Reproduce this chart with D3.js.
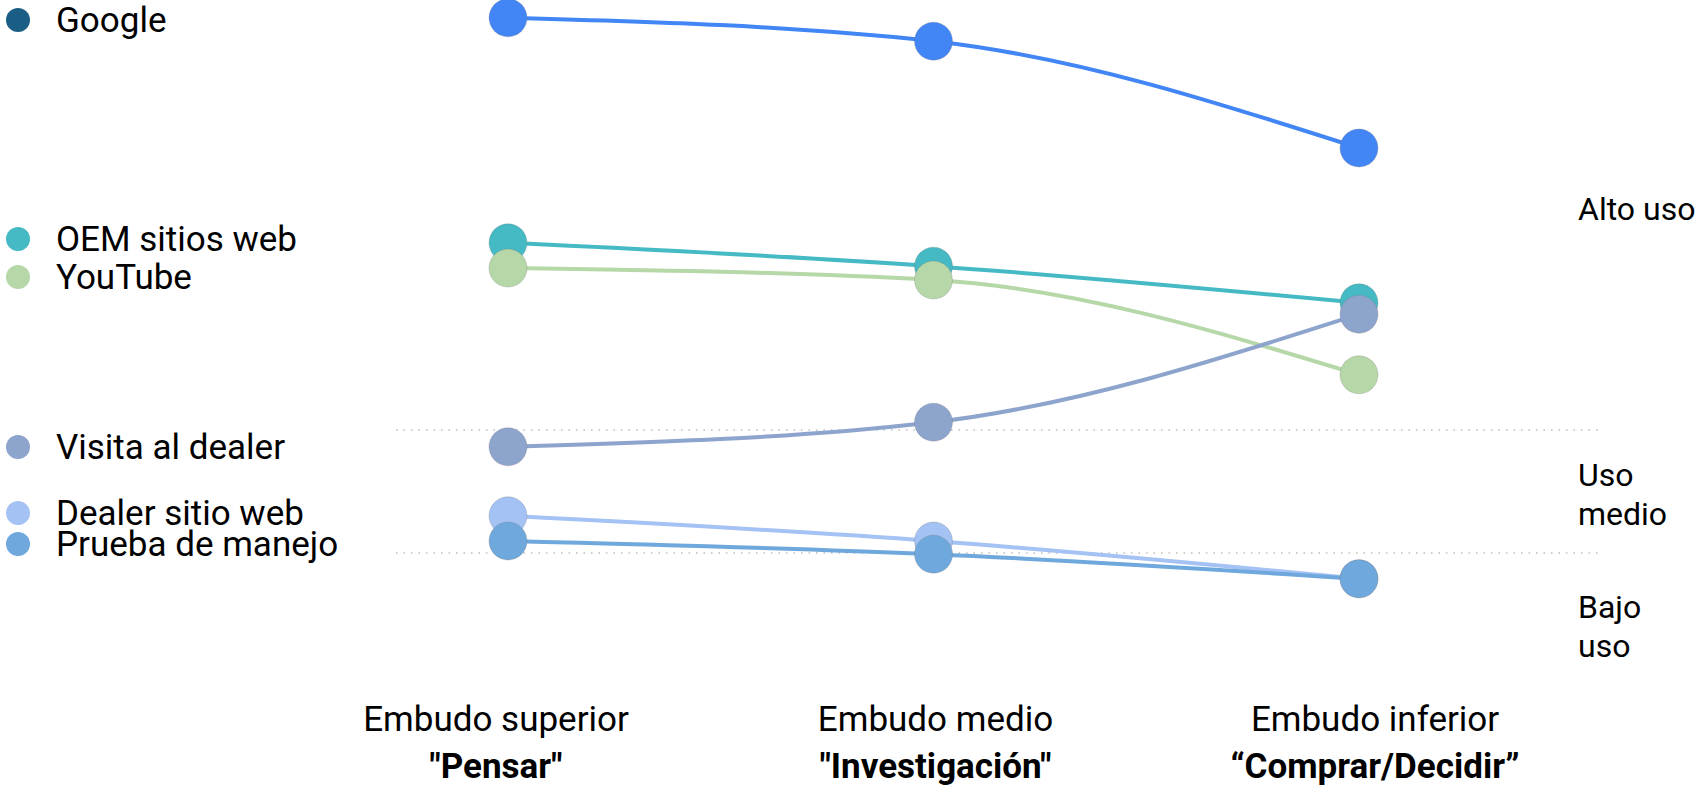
<!DOCTYPE html>
<html>
<head>
<meta charset="utf-8">
<script src="https://cdn.jsdelivr.net/npm/d3@7"></script>
<style>
  html, body { margin: 0; padding: 0; background: #fff; }
  svg { display: block; font-family: Roboto, "Noto Sans", sans-serif; }
</style>
</head>
<body>
<svg id="chart" width="1696" height="788"></svg>
<script>
// Funnel stages (x axis)
const stages = ["Embudo superior", "Embudo medio", "Embudo inferior"];
const stageNames = ["\"Pensar\"", "\"Investigación\"", "\u201CComprar/Decidir\u201D"];

// Channels and their relative usage at each stage (0–100 index)
const channels = ["Google", "OEM sitios web", "YouTube", "Visita al dealer", "Dealer sitio web", "Prueba de manejo"];
const google      = [98.7, 94.8, 77.0];
const oemSites    = [61.2, 57.3, 51.2];
const youtube     = [57.0, 55.0, 39.2];
const dealerVisit = [27.2, 31.3, 49.3];
const dealerSite  = [15.7, 11.5, 5.2];
const testDrive   = [11.5, 9.3, 5.2];
const seriesValues = [google, oemSites, youtube, dealerVisit, dealerSite, testDrive];

// Usage band boundaries and labels
const bandThresholds = [30, 9.5];
const bandLabels = [["Alto uso"], ["Uso", "medio"], ["Bajo", "uso"]];

const lineColors   = ["#4285F4", "#45BAC5", "#B6D7A8", "#8DA4CD", "#A4C2F4", "#6FA8DC"];
const legendColors = ["#1B5E85", "#45BAC5", "#B6D7A8", "#8DA4CD", "#A4C2F4", "#6FA8DC"];

const svg = d3.select("#chart");

const x = d3.scalePoint().domain(stages).range([508, 1359]);
const xLabel = d3.scalePoint().domain(stages).range([496, 1375]);
const y = d3.scaleLinear().domain([0, 100]).range([610, 10]);

// Dotted band separators
svg.append("g").selectAll("line")
  .data(bandThresholds)
  .join("line")
  .attr("x1", 396).attr("x2", 1600)
  .attr("y1", d => y(d)).attr("y2", d => y(d))
  .attr("stroke", "#bdbdbd")
  .attr("stroke-width", 1.5)
  .attr("stroke-dasharray", "1.5,6");

// Band labels on the right
const bandLabelY = [220, 486, 618];
const bandG = svg.append("g");
bandLabels.forEach((lines, i) => {
  const t = bandG.append("text")
    .attr("x", 1578).attr("y", bandLabelY[i])
    .attr("font-size", 32).attr("fill", "#000");
  lines.forEach((s, j) => t.append("tspan").attr("x", 1578).attr("dy", j === 0 ? 0 : 39).text(s));
});

// Lines and dots, one series at a time so later series sit on top
const line = d3.line()
  .x((d, i) => x(stages[i]))
  .y(d => y(d))
  .curve(d3.curveMonotoneX);

const seriesG = svg.append("g");
seriesValues.forEach((vals, si) => {
  const g = seriesG.append("g");
  g.append("path")
    .attr("d", line(vals))
    .attr("fill", "none")
    .attr("stroke", lineColors[si])
    .attr("stroke-width", 4);
  g.selectAll("circle")
    .data(vals)
    .join("circle")
    .attr("cx", (d, i) => x(stages[i]))
    .attr("cy", d => y(d))
    .attr("r", 19)
    .attr("fill", lineColors[si])
    .attr("stroke", "rgba(110,110,110,0.25)")
    .attr("stroke-width", 1);
});

// Legend on the left
const legendY = [20, 239, 277, 447, 513, 544];
const legend = svg.append("g").selectAll("g")
  .data(channels)
  .join("g")
  .attr("transform", (d, i) => `translate(0,${legendY[i]})`);
legend.append("circle")
  .attr("cx", 18).attr("cy", 0).attr("r", 12)
  .attr("fill", (d, i) => legendColors[i]);
legend.append("text")
  .attr("x", 56).attr("y", 0)
  .attr("dy", "0.35em")
  .attr("font-size", 35)
  .attr("fill", "#000")
  .text(d => d);

// Stage labels along the bottom
const stageG = svg.append("g").selectAll("g")
  .data(stages)
  .join("g")
  .attr("transform", d => `translate(${xLabel(d)},0)`);
stageG.append("text")
  .attr("y", 731).attr("text-anchor", "middle")
  .attr("font-size", 35).attr("fill", "#000")
  .text(d => d);
stageG.append("text")
  .attr("y", 778).attr("text-anchor", "middle")
  .attr("font-size", 35).attr("font-weight", "bold").attr("fill", "#000")
  .text((d, i) => stageNames[i]);
</script>
</body>
</html>
